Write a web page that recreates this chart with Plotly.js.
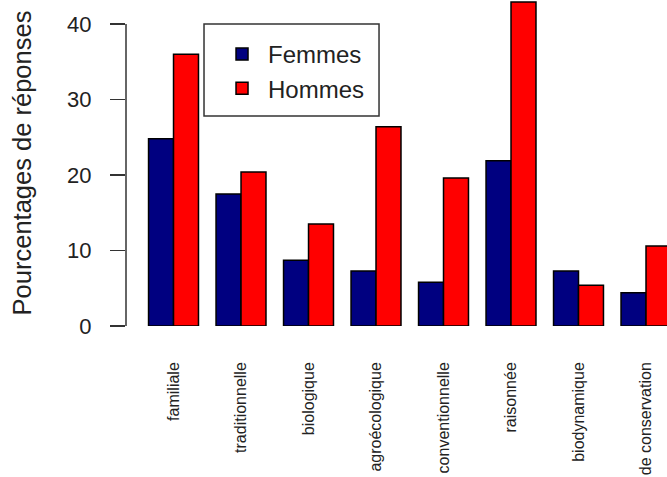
<!DOCTYPE html>
<html>
<head>
<meta charset="utf-8">
<script src="https://cdn.plot.ly/plotly-3.0.1.min.js"></script>
<style>html,body{margin:0;padding:0;background:#fff;}#chart{width:667px;height:477px;}</style>
</head>
<body>
<div id="chart"></div>
<script>
var categories = ['familiale', 'traditionnelle', 'biologique', 'agroécologique', 'conventionnelle', 'raisonnée', 'biodynamique', 'de conservation'];
var femmes = [24.8, 17.5, 8.7, 7.3, 5.8, 21.9, 7.3, 4.4];
var hommes = [36.0, 20.4, 13.5, 26.4, 19.6, 42.9, 5.4, 10.6];
var yTicks = [0, 10, 20, 30, 40];

var font = 'Liberation Sans, Arial, sans-serif';

var traces = [
  {type: 'bar', name: 'Femmes', x: categories, y: femmes,
   marker: {color: '#000080', line: {color: '#000000', width: 1.5}}},
  {type: 'bar', name: 'Hommes', x: categories, y: hommes,
   marker: {color: '#FF0000', line: {color: '#000000', width: 1.5}}}
];

var layout = {
  width: 667, height: 477,
  margin: {l: 126, r: 0, t: 0, b: 151, pad: 0},
  paper_bgcolor: '#ffffff', plot_bgcolor: '#ffffff',
  barmode: 'group', bargap: 0.26, bargroupgap: 0,
  font: {family: font, color: '#222222'},
  showlegend: true,
  legend: {
    x: 0.1664, y: 0.902, xanchor: 'left', yanchor: 'top',
    bgcolor: 'rgba(255,255,255,0)', borderwidth: 0, itemwidth: 42,
    font: {family: font, size: 24, color: '#222222'}
  },
  xaxis: {
    type: 'category', range: [-0.704, 7.311],
    showgrid: false, zeroline: false, showline: false,
    ticks: '', tickangle: -90, ticklabelstandoff: 32,
    tickfont: {family: font, size: 16, color: '#222222'}
  },
  yaxis: {
    range: [0, 43.18], autorange: false,
    showgrid: false, zeroline: false, showline: false,
    tickvals: yTicks, ticktext: yTicks.map(String),
    ticks: 'outside', ticklen: 15, tickwidth: 1.5, tickcolor: '#333333',
    ticklabelstandoff: 14,
    tickfont: {family: font, size: 22, color: '#222222'},
    title: {text: 'Pourcentages de réponses', font: {family: font, size: 25.5, color: '#222222'}, standoff: 28}
  },
  shapes: [
    {type: 'line', xref: 'paper', yref: 'y', x0: 0, x1: 0, y0: yTicks[0], y1: yTicks[yTicks.length - 1],
     line: {color: '#333333', width: 1.5}},
    {type: 'rect', xref: 'paper', yref: 'paper', x0: 0.1442, x1: 0.4677, y0: 0.6442, y1: 0.9264,
     line: {color: '#333333', width: 1.5}, fillcolor: 'rgba(0,0,0,0)', layer: 'above'}
  ]
};

Plotly.newPlot('chart', traces, layout, {displayModeBar: false, staticPlot: true});
</script>
</body>
</html>
